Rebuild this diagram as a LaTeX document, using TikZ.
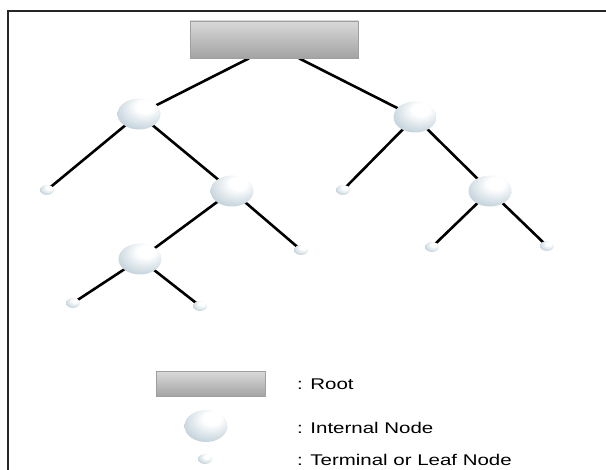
\documentclass[tikz,border=0pt]{standalone}
\usepackage{fontspec}
\setmainfont{Liberation Sans}
\usepackage{graphicx}
\usetikzlibrary{shapes.geometric,backgrounds}
\definecolor{sphmid}{RGB}{200,214,222}
\definecolor{sphedge}{RGB}{135,156,170}
\pgfdeclareradialshading{sphere}{\pgfpoint{8bp}{14bp}}{color(0bp)=(white); color(10bp)=(white); color(32bp)=(sphmid); color(55bp)=(sphedge); color(80bp)=(sphedge)}
\tikzset{
  inode/.style={ellipse, shading=sphere, inner sep=0pt, minimum width=43pt, minimum height=31pt},
  leaf/.style={ellipse, shading=sphere, inner sep=0pt, minimum width=14pt, minimum height=10pt},
  rootbox/.style={rectangle, draw=gray!75, line width=0.6pt, top color=gray!30, bottom color=gray!72, inner sep=0pt},
  edge/.style={line width=2.6pt, black},
  lbl/.style={anchor=west, inner sep=0pt, font=\fontsize{15.5}{17}\selectfont}
}
\begin{document}
\begin{tikzpicture}[x=1pt,y=-1pt]
\useasboundingbox (0,0) rectangle (606,470);
% frame
\draw[line width=2.6pt, black!85] (8,471) -- (8,11) -- (607,11);
% root
\node[rootbox, minimum width=168pt, minimum height=37pt] (root) at (274,39.5) {};
% internal nodes
\node[inode] (A) at (139,114) {};
\node[inode] (B) at (415,117) {};
\node[inode] (D) at (232,191) {};
\node[inode] (C) at (490,191) {};
\node[inode] (E) at (140,259) {};
% leaves
\node[leaf] (L1) at (47,190) {};
\node[leaf] (L2) at (301,250) {};
\node[leaf] (L3) at (73,303) {};
\node[leaf] (L4) at (200,306) {};
\node[leaf] (L5) at (343,190) {};
\node[leaf] (L6) at (432,247) {};
\node[leaf] (L7) at (547,246) {};
% edges
\begin{scope}[on background layer]
\draw[edge] ([xshift=-25pt]root.south) -- (A.center);
\draw[edge] ([xshift=25pt]root.south) -- (B.center);
\draw[edge] (A.center) -- (L1.center);
\draw[edge] (A.center) -- (D.center);
\draw[edge] (D.center) -- (E.center);
\draw[edge] (D.center) -- (L2.center);
\draw[edge] (E.center) -- (L3.center);
\draw[edge] (E.center) -- (L4.center);
\draw[edge] (B.center) -- (L5.center);
\draw[edge] (B.center) -- (C.center);
\draw[edge] (C.center) -- (L6.center);
\draw[edge] (C.center) -- (L7.center);
\end{scope}
% legend
\node[rootbox, minimum width=109pt, minimum height=25pt] (lgroot) at (211,384) {};
\node[inode, minimum height=32pt] (lginode) at (206,426) {};
\node[leaf] (lgleaf) at (205,459) {};
\node[lbl] (t1) at (297,384) {\scalebox{1.32}[1]{: Root}};
\node[lbl] (t2) at (297,428) {\scalebox{1.32}[1]{: Internal Node}};
\node[lbl] (t3) at (297,460) {\scalebox{1.32}[1]{: Terminal or Leaf Node}};
\end{tikzpicture}
\end{document}
